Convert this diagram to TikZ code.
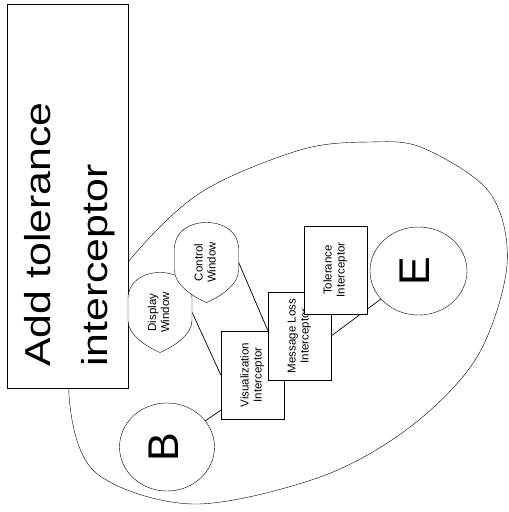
\documentclass[tikz,border=0pt]{standalone}
\usepackage{fontspec}
\setmainfont{Liberation Sans}
\usepackage{graphicx}
\usetikzlibrary{shapes.geometric}
\pgfdeclarelayer{bg}
\pgfdeclarelayer{links}
\pgfsetlayers{bg,links,main}
% text set bottom-to-top, lines centred
\newcommand\uptext[1]{\rotatebox{90}{\begin{tabular}{@{}c@{}}#1\end{tabular}}}
% big single letter, set bottom-to-top, sitting a little left of centre
\newcommand\upletter[1]{\rotatebox{90}{#1}\hspace*{7pt}}
\tikzset{
  ibox/.style={draw, fill=white, rectangle, minimum width=63pt, minimum height=88pt,
    inner sep=0pt, font=\fontsize{11.5}{13}\selectfont},
  endpoint/.style={draw, fill=white, ellipse, minimum width=95pt, minimum height=88pt,
    inner sep=0pt, font=\fontsize{43}{50}\selectfont},
  winarea/.style={rectangle, minimum width=64pt, minimum height=80pt, inner sep=0pt,
    font=\fontsize{11.5}{13}\selectfont},
  link/.style={draw, line width=0.7pt},
  % window symbol: straight sides, rounded top, pointed bottom
  pics/winshape/.style={code={
    \draw[fill=white] (-32,-14) .. controls (-32,-30) and (-18,-40) .. (0,-40)
      .. controls (18,-40) and (32,-30) .. (32,-14) -- (32,8)
      .. controls (32,22) and (14,34) .. (0,40)
      .. controls (-14,34) and (-32,22) .. (-32,8) -- cycle;
    \node[winarea] (-n) {\uptext{#1}};
  }}
}
\begin{document}
\begin{tikzpicture}[x=1pt, y=-1pt, line width=0.7pt]
\begin{pgfonlayer}{bg}
  \fill[white] (0,0) rectangle (509,512);
\end{pgfonlayer}
\useasboundingbox (0,0) rectangle (509,512);

% enclosing boundary
\draw plot[smooth cycle, tension=0.55] coordinates {
  (69,395) (95,472) (193,504) (320,477) (410,427) (477,357) (507,265)
  (490,193) (423,148) (370,142) (300,150) (200,193) (128,262) (85,330)};

% title frame
\draw[fill=white] (7,4) rectangle (128,388);
\node[inner sep=0pt, anchor=south west, font=\fontsize{36}{57}\selectfont] (title) at (10,367)
  {\rotatebox{90}{\scalebox{1.19}[1]{\begin{tabular}{@{}l@{}}Add tolerance\\interceptor\end{tabular}}}};

% window components
\pic (disp) at (160,312.5) {winshape={Display\\Window}};
\pic (ctl) at (206.5,262.5) {winshape={Control\\Window}};

% end points
\node[endpoint] (b) at (167,447) {\upletter{B}};
\node[endpoint, minimum width=97pt] (e) at (418.5,271) {\upletter{E}};

% interceptor chain
\node[ibox] (viz) at (252.5,375) {\uptext{Visualization\\Interceptor}};
\node[ibox] (ml) at (299.5,336) {\uptext{Message Loss\\Interceptor}};
\node[ibox] (tol) at (335.5,270) {\uptext{Tolerance\\Interceptor}};

\begin{pgfonlayer}{links}
  \draw[link] (b) -- (viz.228);
  \draw[link] (disp-n.east) -- (viz.west);
  \draw[link] (ctl-n.east) -- (ml.170);
  \draw[link] (ml.east) -- (e);
\end{pgfonlayer}
\end{tikzpicture}
\end{document}
